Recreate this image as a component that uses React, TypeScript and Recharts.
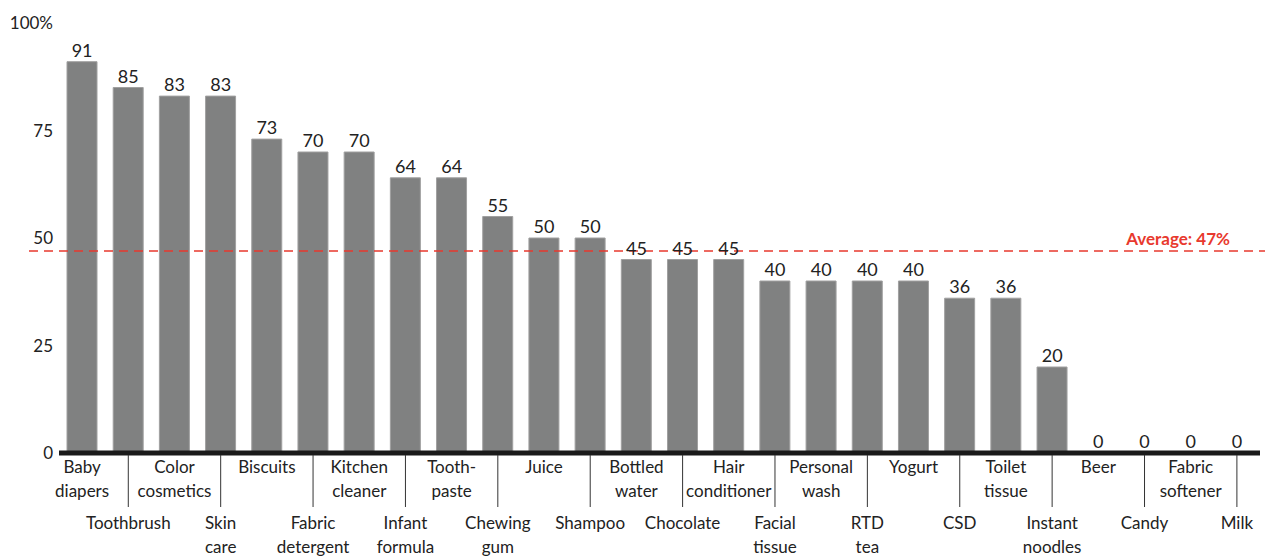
import React from "react";
import { ComposedChart, Bar, Line, XAxis, YAxis, LabelList, ReferenceLine } from "recharts";

// Category labels, with "\n" marking the line break
const categories = [
  "Baby\ndiapers", "Toothbrush", "Color\ncosmetics", "Skin\ncare", "Biscuits",
  "Fabric\ndetergent", "Kitchen\ncleaner", "Infant\nformula", "Tooth-\npaste", "Chewing\ngum",
  "Juice", "Shampoo", "Bottled\nwater", "Chocolate", "Hair\nconditioner",
  "Facial\ntissue", "Personal\nwash", "RTD\ntea", "Yogurt", "CSD",
  "Toilet\ntissue", "Instant\nnoodles", "Beer", "Candy", "Fabric\nsoftener", "Milk",
];

const shares = [
  91, 85, 83, 83, 73, 70, 70, 64, 64, 55, 50, 50, 45, 45, 45,
  40, 40, 40, 40, 36, 36, 20, 0, 0, 0, 0,
];

const yTicks = [0, 25, 50, 75, 100];
const average = 47;

const data = categories.map((name, i) => ({ name, value: shares[i] }));

const FONT = "Lato, 'Open Sans', sans-serif";
const TEXT = "#222";
const RED = "#e8392e";

const YTick = (props: any) => {
  const { x, y, payload } = props;
  const label = payload.value === 100 ? "100%" : String(payload.value);
  return (
    <text x={x + 2} y={y} dy={6} textAnchor="end" fontSize={17} fill={TEXT} fontFamily={FONT}>
      {label}
    </text>
  );
};

// Alternating two-row category labels; the lower row gets a separator tick
const XTick = (props: any) => {
  const { x, y, payload, index } = props;
  const lines = String(payload.value).split("\n");
  const lower = index % 2 === 1;
  const startY = lower ? y + 68 : y + 12;
  return (
    <g>
      {lower && <line x1={x} x2={x} y1={y - 6} y2={y + 46} stroke="#333" strokeWidth={1} />}
      {lines.map((ln, k) => (
        <text
          key={k}
          x={x}
          y={startY + k * 24}
          textAnchor="middle"
          fontSize={17}
          fill={TEXT}
          fontFamily={FONT}
        >
          {ln}
        </text>
      ))}
    </g>
  );
};

const AverageLine = (props: any) => {
  const { x1, x2, y1 } = props;
  return (
    <g>
      <line x1={x1 - 30} x2={x2 + 5} y1={y1} y2={y1} stroke={RED} strokeWidth={1.5} strokeDasharray="9 6" />
      <text
        x={x2 - 30}
        y={y1 - 6}
        textAnchor="end"
        fontSize={17}
        fontWeight="bold"
        fill={RED}
        fontFamily={FONT}
      >
        {`Average: ${average}%`}
      </text>
    </g>
  );
};

export default function App() {
  return (
    <div style={{ position: "absolute", left: 0, top: 0, background: "#fff" }}>
      <ComposedChart
        width={1265}
        height={557}
        data={data}
        margin={{ top: 23, right: 5, bottom: 0, left: 0 }}
        barSize={30}
      >
        <YAxis
          width={59}
          domain={[0, 100]}
          ticks={yTicks}
          axisLine={false}
          tickLine={false}
          tick={<YTick />}
          interval={0}
        />
        <XAxis
          dataKey="name"
          height={104}
          interval={0}
          tickLine={false}
          axisLine={{ stroke: "#1a1a1a", strokeWidth: 5 }}
          tick={<XTick />}
        />
        <Bar dataKey="value" fill="#808181" stroke="#a0a0a0" strokeWidth={1} isAnimationActive={false} />
        {/* invisible series carrying the value labels, so zero values are labelled too */}
        <Line
          dataKey="value"
          stroke="none"
          dot={false}
          activeDot={false}
          isAnimationActive={false}
        >
          <LabelList dataKey="value" position="top" offset={5} fontSize={18} fill={TEXT} fontFamily={FONT} />
        </Line>
        <ReferenceLine y={average} shape={<AverageLine />} />
      </ComposedChart>
    </div>
  );
}
